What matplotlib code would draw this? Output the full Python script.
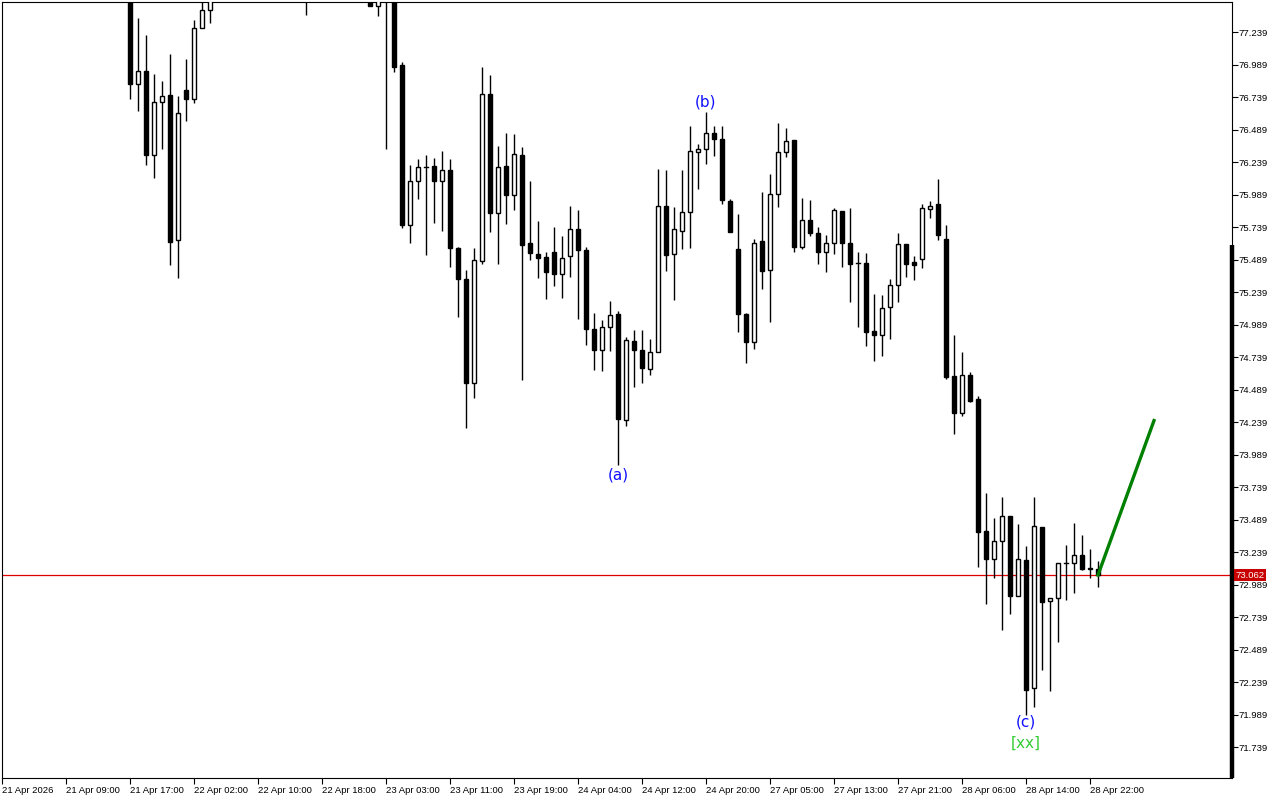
import numpy as np
import matplotlib
matplotlib.use('Agg')
import matplotlib.pyplot as plt

# hourly bars, index counted from 21 Apr 2026 00:00 (only bars that reach the visible window)
bars = [16, 17, 18, 19, 20, 21, 22, 23, 24, 25, 26, 38, 46, 47, 48, 49, 50,
        51, 52, 53, 54, 55, 56, 57, 58, 59, 60, 61, 62, 63, 64, 65, 66, 67, 68, 69, 70,
        71, 72, 73, 74, 75, 76, 77, 78, 79, 80, 81, 82, 83, 84, 85, 86, 87, 88, 89, 90,
        91, 92, 93, 94, 95, 96, 97, 98, 99, 100, 101, 102, 103, 104, 105, 106, 107, 108, 109, 110,
        111, 112, 113, 114, 115, 116, 117, 118, 119, 120, 121, 122, 123, 124, 125, 126, 127, 128, 129, 130,
        131, 132, 133, 134, 135, 136, 137]
opens = [77.62, 76.837, 76.939, 76.295, 76.698, 76.752, 75.639, 76.793, 76.726, 77.267, 77.406, 77.62, 77.50, 77.441, 77.52, 77.50, 76.983,
         75.754, 76.090, 76.198, 76.206, 76.090, 76.175, 75.575, 75.337, 74.537, 75.475, 76.760, 75.849, 76.206, 75.988, 76.290, 75.614, 75.529, 75.506, 75.545, 75.375,
         75.514, 75.721, 75.560, 74.952, 74.791, 74.968, 75.067, 74.252, 74.860, 74.791, 74.644, 74.775, 75.898, 75.529, 75.706, 75.852, 76.314, 76.337, 76.460, 76.414,
         75.937, 75.568, 75.067, 74.852, 75.629, 75.406, 75.991, 76.314, 76.406, 75.583, 75.791, 75.691, 75.545, 75.614, 75.860, 75.614, 75.462, 75.462, 74.939, 74.906,
         75.121, 75.290, 75.606, 75.467, 75.491, 75.875, 75.918, 75.647, 74.592, 74.306, 74.597, 74.417, 73.400, 73.183, 73.321, 73.513, 72.903, 73.175, 72.191, 73.430,
         72.859, 72.889, 73.158, 73.158, 73.213, 73.117, 73.106]
highs = [77.70, 77.347, 77.216, 76.916, 76.862, 77.070, 76.744, 77.031, 77.331, 77.58, 77.70, 77.75, 77.56, 77.58, 77.60, 77.55, 77.008,
         76.214, 76.262, 76.290, 76.270, 76.324, 76.262, 75.588, 75.406, 75.575, 76.970, 76.908, 76.362, 76.462, 76.454, 76.352, 76.090, 75.783, 75.545, 75.737, 75.668,
         75.898, 75.867, 75.583, 75.075, 75.021, 75.167, 75.091, 74.891, 74.944, 74.944, 74.875, 76.183, 76.175, 75.890, 76.175, 76.516, 76.375, 76.624, 76.516, 76.516,
         75.952, 75.837, 75.075, 75.645, 76.006, 76.145, 76.537, 76.498, 76.406, 75.960, 75.944, 75.737, 75.675, 75.883, 75.860, 75.883, 75.545, 75.539, 75.226, 75.216,
         75.339, 75.693, 75.606, 75.518, 75.916, 75.937, 76.106, 75.752, 74.905, 74.774, 74.620, 74.439, 73.691, 73.501, 73.661, 73.513, 73.455, 73.285, 73.661, 73.430,
         72.889, 73.158, 73.293, 73.461, 73.367, 73.260, 73.167]
lows = [76.721, 76.634, 76.218, 76.118, 76.341, 75.447, 75.349, 76.557, 76.695, 77.267, 77.310, 77.37, 77.436, 77.364, 76.341, 76.934, 75.734,
        75.614, 75.957, 75.526, 75.772, 75.711, 75.434, 75.044, 74.191, 74.421, 75.452, 75.703, 75.452, 75.764, 75.872, 74.564, 75.483, 75.349, 75.183, 75.283, 75.191,
        75.352, 75.029, 74.829, 74.637, 74.629, 74.783, 73.908, 74.206, 74.506, 74.537, 74.598, 74.775, 75.398, 75.175, 75.568, 75.575, 76.029, 76.221, 76.283, 75.914,
        75.698, 74.929, 74.690, 74.798, 75.260, 75.006, 75.890, 76.275, 75.545, 75.568, 75.668, 75.452, 75.391, 75.529, 75.429, 75.160, 74.968, 74.826, 74.711, 74.749,
        74.880, 75.164, 75.357, 75.334, 75.426, 75.811, 75.641, 74.572, 74.144, 74.287, 74.390, 73.120, 72.840, 73.037, 72.642, 72.765, 72.903, 71.988, 72.043, 72.331,
        72.172, 72.543, 72.873, 72.927, 73.100, 73.040, 72.969]
closes = [76.837, 76.939, 76.295, 76.698, 76.744, 75.626, 76.614, 76.726, 77.267, 77.406, 77.62, 77.55, 77.441, 77.52, 77.50, 76.972, 75.754,
          76.090, 76.198, 76.200, 76.090, 76.175, 75.575, 75.337, 74.537, 75.483, 76.760, 75.849, 76.198, 75.988, 76.298, 75.598, 75.537, 75.498, 75.391, 75.375, 75.498,
          75.721, 75.560, 74.952, 74.791, 74.968, 75.060, 74.260, 74.868, 74.791, 74.652, 74.775, 75.898, 75.522, 75.721, 75.852, 76.321, 76.337, 76.460, 76.414, 75.944,
          75.698, 75.067, 74.852, 75.614, 75.398, 75.991, 76.314, 76.398, 75.583, 75.791, 75.691, 75.545, 75.614, 75.867, 75.614, 75.452, 75.460, 74.934, 74.911, 75.114,
          75.290, 75.606, 75.457, 75.449, 75.883, 75.898, 75.677, 74.587, 74.312, 74.597, 74.403, 73.394, 73.188, 73.321, 73.513, 72.903, 73.183, 72.180, 73.436, 72.856,
          72.889, 73.158, 73.158, 73.213, 73.111, 73.106, 73.062]

time_labels = ['21 Apr 2026', '21 Apr 09:00', '21 Apr 17:00', '22 Apr 02:00', '22 Apr 10:00', '22 Apr 18:00',
               '23 Apr 03:00', '23 Apr 11:00', '23 Apr 19:00', '24 Apr 04:00', '24 Apr 12:00', '24 Apr 20:00',
               '27 Apr 05:00', '27 Apr 13:00', '27 Apr 21:00', '28 Apr 06:00', '28 Apr 14:00', '28 Apr 22:00']
price_ticks = [71.739, 71.989, 72.239, 72.489, 72.739, 72.989, 73.239, 73.489, 73.739, 73.989,
               74.239, 74.489, 74.739, 74.989, 75.239, 75.489, 75.739, 75.989, 76.239, 76.489, 76.739, 76.989, 77.239]
last_price = 73.062

wave_bars = [77, 88, 128]
wave_names = ['(a)', '(b)', '(c)']
wave_prices = [73.83, 76.70, 71.93]
xx_bar = 128
xx_price = 71.77

proj_bars = [137, 144]
proj_prices = [73.062, 74.25]

fig = plt.figure(figsize=(12.8, 8), dpi=100)
ax = fig.add_axes([2/1280, 22/800, 1230/1280, 776/800])
ax.set_xlim(0, 153.75)
ax.set_ylim(71.5006, 77.4698)

bw = 0.6
for b, o, h, l, c in zip(bars, opens, highs, lows, closes):
    ax.plot([b, b], [l, h], color='black', lw=1.0, solid_capstyle='butt', zorder=2)
    lo, hi = min(o, c), max(o, c)
    if hi - lo < 0.004:
        ax.plot([b - bw/2, b + bw/2], [o, o], color='black', lw=1.0, zorder=3)
        continue
    face = 'white' if c >= o else 'black'
    ax.add_patch(plt.Rectangle((b - bw/2, lo), bw, hi - lo, facecolor=face,
                               edgecolor='black', lw=1.0, zorder=3))

ax.axhline(last_price, color='#e00000', lw=0.9, zorder=1)
ax.plot(proj_bars, proj_prices, color='#008000', lw=2.4, zorder=4)

for b, n, p in zip(wave_bars, wave_names, wave_prices):
    ax.text(b, p, n, color='#1010ff', fontsize=11, ha='center', va='center',
            family='DejaVu Sans', zorder=5)
ax.text(xx_bar, xx_price, '[xx]', color='#33cc33', fontsize=11, ha='center', va='center',
        family='DejaVu Sans', zorder=5)

# axes and ticks
ax.yaxis.tick_right()
ax.set_yticks(price_ticks)
ax.set_yticklabels(['%.3f' % p for p in price_ticks], fontsize=6.8, family='Liberation Sans')
ax.tick_params(axis='y', direction='out', length=4, width=0.8, pad=1)
ax.set_xticks(np.arange(len(time_labels)) * 8)
ax.set_xticklabels(time_labels, fontsize=6.8, family='Liberation Sans', ha='left')
ax.tick_params(axis='x', direction='out', length=4, width=0.8, pad=2)
for s in ax.spines.values():
    s.set_linewidth(0.8)

# thick marker on the price scale
ax.plot([1.0, 1.0], [0.0, (75.60 - 71.5006) / (77.4698 - 71.5006)], transform=ax.transAxes,
        color='black', lw=3.2, clip_on=False, solid_capstyle='butt', zorder=6)

ax.text(1.003, last_price, '%.3f' % last_price, transform=ax.get_yaxis_transform(),
        fontsize=6.8, family='Liberation Sans', color='white', ha='left', va='center',
        bbox=dict(boxstyle='square,pad=0.15', facecolor='#c80000', edgecolor='none'), zorder=7)

fig.savefig('out.png', dpi=100)
